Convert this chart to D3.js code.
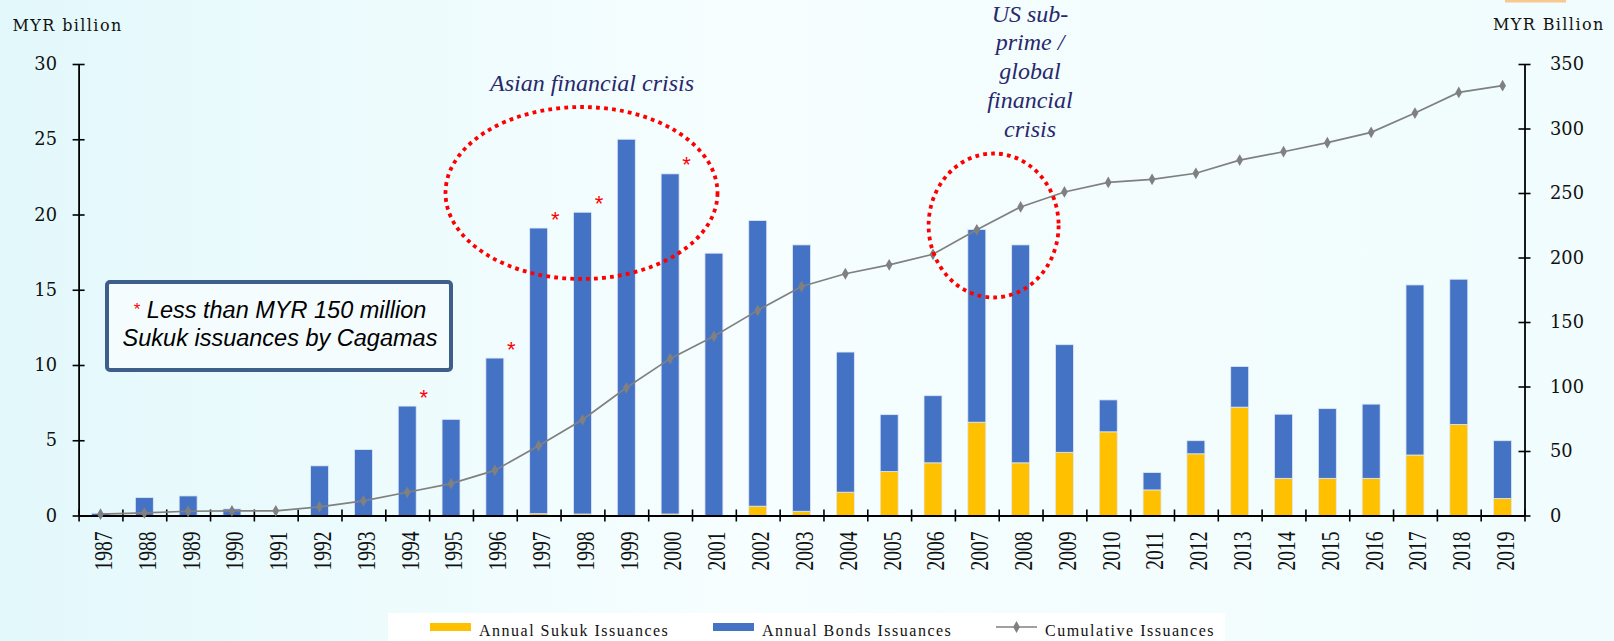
<!DOCTYPE html>
<html>
<head>
<meta charset="utf-8">
<script src="https://cdnjs.cloudflare.com/ajax/libs/d3/7.8.5/d3.min.js"></script>
<style>
  body { margin: 0; background: #effcfe; }
  svg { display: block; }
</style>
</head>
<body>
<svg width="1614" height="641"></svg>
<script>
var years = ['1987', '1988', '1989', '1990', '1991', '1992', '1993', '1994', '1995', '1996', '1997',
  '1998', '1999', '2000', '2001', '2002', '2003', '2004', '2005', '2006', '2007', '2008',
  '2009', '2010', '2011', '2012', '2013', '2014', '2015', '2016', '2017', '2018', '2019'];
// MYR billion
var sukuk = [0, 0, 0, 0, 0, 0, 0, 0, 0, 0, 0.12,
  0.1, 0, 0.1, 0, 0.62, 0.28, 1.55, 2.92, 3.5, 6.2, 3.5,
  4.2, 5.56, 1.7, 4.1, 7.2, 2.47, 2.47, 2.47, 4.02, 6.05, 1.13];
var bonds = [0.15, 1.2, 1.3, 0.44, 0, 3.3, 4.38, 7.27, 6.39, 10.46, 18.98,
  20.05, 25.0, 22.6, 17.43, 18.98, 17.7, 9.31, 3.78, 4.46, 12.8, 14.48,
  7.15, 2.12, 1.15, 0.87, 2.7, 4.26, 4.63, 4.93, 11.3, 9.65, 3.84];
var cumulative = [1, 2, 3.3, 3.6, 3.6, 6.7, 11.3, 18, 24.7, 35, 54,
  74.2, 99, 121.6, 138.9, 159, 177.5, 187.4, 194.3, 202.5, 221.5, 239.2,
  250.8, 258.2, 260.6, 265.3, 275.5, 282, 289, 297, 312, 328, 333.2];
var starYears = ['1994', '1996', '1997', '1998', '2000'];
var leftTicks = [0, 5, 10, 15, 20, 25, 30];
var rightTicks = [0, 50, 100, 150, 200, 250, 300, 350];
var gfcLines = ['US sub-', 'prime /', 'global', 'financial', 'crisis'];

var svg = d3.select('svg');
var serif = '"DejaVu Serif", serif';
var times = '"Liberation Serif", serif';

var table = years.map(function(y, i) {
  return { year: y, sukuk: sukuk[i], bonds: bonds[i], cum: cumulative[i] };
});

// background, a faint cyan wash
var grad = svg.append('defs').append('linearGradient').attr('id', 'bg');
grad.append('stop').attr('offset', '0%').attr('stop-color', '#e3f8fb');
grad.append('stop').attr('offset', '45%').attr('stop-color', '#f6feff');
grad.append('stop').attr('offset', '100%').attr('stop-color', '#f0fcfd');
svg.append('rect').attr('width', 1614).attr('height', 641).attr('fill', 'url(#bg)');
svg.append('rect').attr('x', 1505).attr('y', 0).attr('width', 61).attr('height', 2.5).attr('fill', '#f9c88f');

var x = d3.scaleBand().domain(years).range([78.6, 1524.5]).paddingInner(0.59).paddingOuter(0.295);
var xEdge = d3.scaleLinear().domain([0, years.length]).range([78.6, 1524.5]);
var yL = d3.scaleLinear().domain([0, 30]).range([515.5, 64]);
var yR = d3.scaleLinear().domain([0, 350]).range([515.5, 64]);

// stacked bars
var stack = d3.stack().keys(['sukuk', 'bonds'])(table);
var colors = { sukuk: '#ffc000', bonds: '#4472c4' };
svg.append('g').selectAll('g').data(stack).enter().append('g')
  .attr('fill', function(d) { return colors[d.key]; })
  .selectAll('rect').data(function(d) { return d; }).enter().append('rect')
  .attr('x', function(d) { return x(d.data.year); })
  .attr('width', x.bandwidth())
  .attr('y', function(d) { return yL(d[1]); })
  .attr('height', function(d) { return yL(d[0]) - yL(d[1]); })
  .attr('stroke', '#dfe9f7')
  .attr('stroke-width', function(d) { return d[1] - d[0] > 0 ? 0.8 : 0; });

// axes
function crossTicks(g, horiz) {
  g.selectAll('.tick line').attr(horiz ? 'x1' : 'y1', -6).attr(horiz ? 'x2' : 'y2', 6)
    .attr('stroke', '#000').attr('stroke-width', 1.6);
  g.select('.domain').attr('stroke', '#000').attr('stroke-width', 1.8);
  g.selectAll('text').attr('font-family', serif).attr('fill', '#111');
}
var gl = svg.append('g').attr('transform', 'translate(78.6,0)')
  .call(d3.axisLeft(yL).tickValues(leftTicks).tickSize(6).tickSizeOuter(0).tickPadding(15.6));
crossTicks(gl, true);
gl.selectAll('text').attr('font-size', 17.8);

var gr = svg.append('g').attr('transform', 'translate(1524.5,0)')
  .call(d3.axisRight(yR).tickValues(rightTicks).tickSize(6).tickSizeOuter(0).tickPadding(19.5));
crossTicks(gr, true);
gr.selectAll('text').attr('font-size', 17.8);

var gt = svg.append('g').attr('transform', 'translate(0,515.5)')
  .call(d3.axisBottom(xEdge).tickValues(d3.range(years.length + 1)).tickFormat('').tickSize(6).tickSizeOuter(0));
crossTicks(gt, false);

// year labels: tall, narrow serif digits, turned on their side
var gx = svg.append('g').attr('transform', 'translate(0,515.5)')
  .call(d3.axisBottom(x).tickSize(0));
gx.select('.domain').remove();
gx.selectAll('text')
  .attr('font-family', times).attr('font-size', 19.5).attr('fill', '#111')
  .attr('text-anchor', 'end').attr('transform', 'rotate(-90) scale(1,1.3)')
  .attr('x', -16).attr('y', 2.3).attr('dy', '0.33em');

// cumulative line
var line = d3.line()
  .x(function(d) { return x(d.year) + x.bandwidth() / 2; })
  .y(function(d) { return yR(d.cum); });
svg.append('path').datum(table).attr('d', line)
  .attr('fill', 'none').attr('stroke', '#808080').attr('stroke-width', 1.7);
var diamond = d3.symbol().type(d3.symbolDiamond).size(40);
svg.append('g').selectAll('path').data(table).enter().append('path')
  .attr('d', diamond)
  .attr('transform', function(d) {
    return 'translate(' + (x(d.year) + x.bandwidth() / 2) + ',' + yR(d.cum) + ')';
  })
  .attr('fill', '#808080');

// axis titles
svg.append('text').attr('x', 12.5).attr('y', 31).attr('font-family', serif)
  .attr('font-size', 16).attr('letter-spacing', 1.4).attr('fill', '#111').text('MYR billion');
svg.append('text').attr('x', 1493).attr('y', 30).attr('font-family', serif)
  .attr('font-size', 16).attr('letter-spacing', 1.4).attr('fill', '#111').text('MYR Billion');

// red asterisks over the years with small Cagamas sukuk
svg.append('g').selectAll('text').data(table.filter(function(d) {
  return starYears.indexOf(d.year) >= 0;
})).enter().append('text')
  .attr('x', function(d) { return x(d.year) + x.bandwidth() / 2 + 16.5; })
  .attr('y', function(d) { return yL(d.sukuk + d.bonds) - 14 + 12.5; })
  .attr('text-anchor', 'middle')
  .attr('font-family', '"Liberation Sans", Arial, sans-serif').attr('font-size', 22)
  .attr('fill', '#ff0000').text('*');

// crisis circles
function ring(cx, cy, rx, ry) {
  svg.append('ellipse').attr('cx', cx).attr('cy', cy).attr('rx', rx).attr('ry', ry)
    .attr('fill', 'none').attr('stroke', '#ff0000').attr('stroke-width', 3.8)
    .attr('stroke-dasharray', '3.8 4.2');
}
ring(581.5, 193, 136, 86);
ring(993.6, 225.5, 65, 72);

var note = '#28286b';
svg.append('text').attr('x', 592).attr('y', 91).attr('text-anchor', 'middle')
  .attr('font-family', times).attr('font-style', 'italic').attr('font-size', 24)
  .attr('fill', note).text('Asian financial crisis');
svg.append('g').selectAll('text').data(gfcLines).enter().append('text')
  .attr('x', 1030).attr('y', function(d, i) { return 21.7 + i * 28.75; })
  .attr('text-anchor', 'middle')
  .attr('font-family', times).attr('font-style', 'italic').attr('font-size', 24)
  .attr('fill', note).text(function(d) { return d; });

// footnote box
svg.append('rect').attr('x', 107).attr('y', 282).attr('width', 344).attr('height', 88).attr('rx', 3)
  .attr('fill', '#f4fcfe').attr('stroke', '#3e5f8a').attr('stroke-width', 4);
var sans = '"Liberation Sans", Arial, sans-serif';
var l1 = svg.append('text').attr('x', 280).attr('y', 318).attr('text-anchor', 'middle')
  .attr('font-family', sans).attr('font-size', 23.5).attr('font-style', 'italic').attr('fill', '#000');
l1.append('tspan').attr('font-size', 17).attr('font-style', 'normal').attr('fill', '#ff0000')
  .attr('dy', -3).text('*');
l1.append('tspan').attr('dy', 3).text(' Less than MYR 150 million');
svg.append('text').attr('x', 280).attr('y', 346).attr('text-anchor', 'middle')
  .attr('font-family', sans).attr('font-size', 23.5).attr('font-style', 'italic').attr('fill', '#000')
  .text('Sukuk issuances by Cagamas');

// legend
svg.append('rect').attr('x', 388).attr('y', 613).attr('width', 837).attr('height', 28).attr('fill', '#ffffff');
var items = [
  { label: 'Annual Sukuk Issuances', x: 430, color: colors.sukuk },
  { label: 'Annual Bonds Issuances', x: 713, color: colors.bonds },
  { label: 'Cumulative Issuances', x: 996, color: null }
];
items.forEach(function(it) {
  if (it.color) {
    svg.append('rect').attr('x', it.x).attr('y', 623).attr('width', 41).attr('height', 8).attr('fill', it.color);
  } else {
    svg.append('line').attr('x1', it.x).attr('x2', it.x + 41).attr('y1', 627).attr('y2', 627)
      .attr('stroke', '#808080').attr('stroke-width', 1.7);
    svg.append('path').attr('d', diamond).attr('transform', 'translate(' + (it.x + 20.5) + ',627)').attr('fill', '#808080');
  }
  svg.append('text').attr('x', it.x + 49).attr('y', 636).attr('font-family', times)
    .attr('font-size', 16).attr('letter-spacing', 1.5).attr('fill', '#111').text(it.label);
});
</script>
</body>
</html>
